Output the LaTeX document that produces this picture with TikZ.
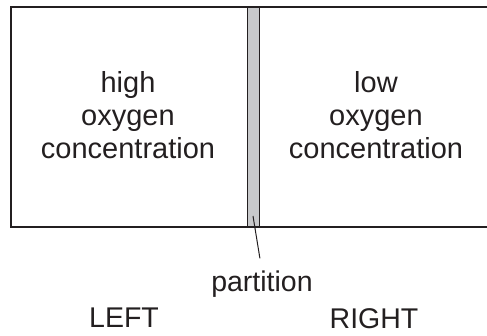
\documentclass[tikz,border=0pt]{standalone}
\usepackage{fontspec}
\setmainfont{Liberation Sans}
\definecolor{ink}{HTML}{231F20}
\definecolor{wallgray}{HTML}{C8C9CB}
\begin{document}
\begin{tikzpicture}[x=1pt,y=-1pt,
    label/.style={text=ink,font=\fontsize{28.5}{33}\selectfont,inner sep=0pt},
    chamber/.style={label,font=\fontsize{29}{33}\selectfont,align=center,anchor=north}]
    \useasboundingbox (0,0) rectangle (487,336);

    % tank, open on the right
    \draw[ink,line width=1.9pt] (487,7) -- (11,7) -- (11,227) -- (487,227);
    \draw[ink,line width=1.9pt,fill=wallgray] (247.5,7) rectangle (259.5,227);

    \node[chamber] (high) at (128,71) {high\\oxygen\\concentration};
    \node[chamber] (low) at (376,71) {low\\oxygen\\concentration};

    \coordinate (wall) at (253,216);
    \node[label,anchor=base] (part) at (262,292) {partition};
    \draw[ink,line width=1pt,shorten >=13pt] (wall) -- (part.north);

    \node[label,anchor=base] (left) at (124,327) {LEFT};
    \node[label,anchor=base] (right) at (374,329) {RIGHT};
\end{tikzpicture}
\end{document}
